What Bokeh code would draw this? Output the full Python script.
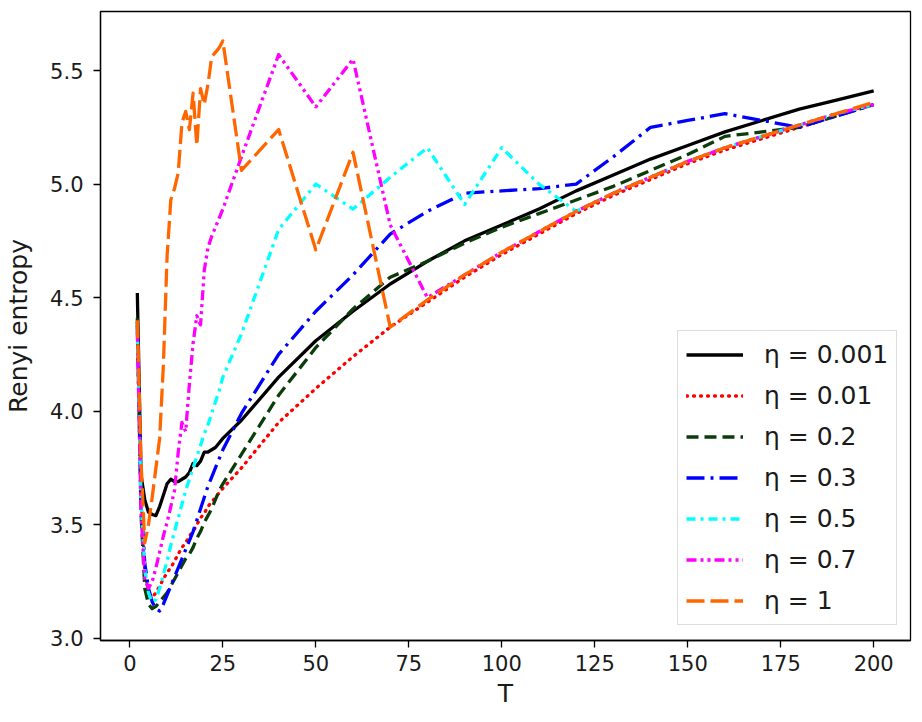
from bokeh.plotting import figure
from bokeh.models import Range1d, FixedTicker, PrintfTickFormatter, Legend, LegendItem
from bokeh.embed import file_html
from bokeh.resources import INLINE

# ---- data ----
T = [2, 3, 4, 5, 6, 7, 8, 9, 10, 11, 12, 13, 14, 15, 16, 17, 18, 19, 20, 21, 22, 23, 24, 25,
     30, 40, 50, 60, 70, 80, 90, 100, 110, 120, 130, 140, 150, 160, 170, 180, 190, 200]

eta_0001 = [4.52, 3.72, 3.61, 3.555, 3.545, 3.54, 3.58, 3.63, 3.68, 3.70, 3.69, 3.69, 3.70, 3.71,
            3.73, 3.77, 3.76, 3.78, 3.82, 3.82, 3.83, 3.84, 3.86, 3.88,
            3.96, 4.15, 4.31, 4.44, 4.56, 4.66, 4.75, 4.82, 4.89, 4.97, 5.04, 5.11, 5.17, 5.23,
            5.28, 5.33, 5.37, 5.41]

eta_001 = [4.39, 3.62, 3.30, 3.20, 3.18, 3.20, 3.23, 3.26, 3.29, 3.31, 3.34, 3.37, 3.40, 3.42,
           3.45, 3.47, 3.50, 3.53, 3.55, 3.58, 3.60, 3.62, 3.64, 3.66,
           3.75, 3.95, 4.10, 4.24, 4.37, 4.48, 4.59, 4.69, 4.78, 4.87, 4.95, 5.02, 5.09, 5.15,
           5.20, 5.25, 5.30, 5.35]

eta_02 = [4.41, 3.55, 3.22, 3.15, 3.13, 3.14, 3.16, 3.18, 3.20, 3.23, 3.26, 3.29, 3.32, 3.35,
          3.37, 3.40, 3.44, 3.47, 3.51, 3.54, 3.57, 3.61, 3.65, 3.68,
          3.81, 4.07, 4.28, 4.45, 4.59, 4.66, 4.74, 4.81, 4.87, 4.93, 4.99, 5.06, 5.13, 5.21,
          5.23, 5.25, 5.30, 5.35]

eta_03 = [4.38, 3.62, 3.33, 3.22, 3.16, 3.13, 3.12, 3.15, 3.19, 3.23, 3.27, 3.31, 3.35, 3.39,
          3.43, 3.47, 3.52, 3.57, 3.62, 3.67, 3.71, 3.75, 3.79, 3.83,
          3.99, 4.25, 4.44, 4.60, 4.78, 4.88, 4.96, 4.97, 4.98, 5.00, 5.12, 5.25, 5.28, 5.31,
          5.28, 5.25, 5.30, 5.35]

eta_05 = [4.37, 3.60, 3.30, 3.20, 3.16, 3.17, 3.22, 3.28, 3.34, 3.41, 3.47, 3.53, 3.59, 3.65,
          3.70, 3.75, 3.80, 3.85, 3.90, 3.94, 3.99, 4.04, 4.09, 4.15,
          4.34, 4.80, 5.00, 4.89, 5.03, 5.16, 4.91, 5.16, 5.00, 4.88, 4.96, 5.03, 5.10, 5.16,
          5.21, 5.26, 5.31, 5.35]

eta_07 = [4.35, 3.55, 3.26, 3.22, 3.25, 3.31, 3.38, 3.45, 3.51, 3.58, 3.65, 3.82, 3.95, 3.91,
          4.12, 4.30, 4.42, 4.38, 4.62, 4.72, 4.77, 4.81, 4.85, 4.89,
          5.12, 5.57, 5.34, 5.55, 4.82, 4.50, 4.60, 4.70, 4.79, 4.88, 4.96, 5.03, 5.10, 5.16,
          5.21, 5.26, 5.31, 5.35]

eta_1 = [4.40, 3.78, 3.42, 3.50, 3.62, 3.75, 3.88, 4.20, 4.68, 4.93, 4.98, 5.05, 5.27, 5.32,
         5.24, 5.40, 5.17, 5.42, 5.35, 5.44, 5.56, 5.58, 5.60, 5.63,
         5.06, 5.24, 4.71, 5.14, 4.37, 4.49, 4.60, 4.70, 4.79, 4.88, 4.96, 5.03, 5.10, 5.16,
         5.21, 5.26, 5.31, 5.36]

labels = ["η = 0.001", "η = 0.01", "η = 0.2", "η = 0.3", "η = 0.5", "η = 0.7", "η = 1"]
series = [eta_0001, eta_001, eta_02, eta_03, eta_05, eta_07, eta_1]

x_ticks = [0, 25, 50, 75, 100, 125, 150, 175, 200]
y_ticks = [3.0, 3.5, 4.0, 4.5, 5.0, 5.5]

# ---- styles ----
colors = ["#000000", "#ff0000", "#0b3d0b", "#0000ff", "#00ffff", "#ff00ff", "#ff6600"]
dashes = ["solid", "1 6", "12 6", "18 6 3 6", "9 5 3 5", "10 4 3 4 3 4", "18 6"]
caps = ["butt", "round", "butt", "butt", "butt", "butt", "butt"]

FONT = "DejaVu Sans"

p = figure(width=922, height=722, output_backend="svg", toolbar_location=None,
           x_range=Range1d(-7.9, 209.9), y_range=Range1d(2.99, 5.76),
           min_border_left=100, min_border_right=12, min_border_top=11, min_border_bottom=82,
           x_axis_label="T", y_axis_label="Renyi entropy")

p.xgrid.visible = False
p.ygrid.visible = False
p.outline_line_color = "black"
p.outline_line_width = 1.3
p.background_fill_color = "white"
p.border_fill_color = "white"

items = []
for lab, ys, c, d, cap in zip(labels, series, colors, dashes, caps):
    r = p.line(T, ys, line_color=c, line_width=3.3, line_dash=d, line_cap=cap, line_join="round")
    items.append(LegendItem(label=lab, renderers=[r]))

p.xaxis.ticker = FixedTicker(ticks=x_ticks)
p.yaxis.ticker = FixedTicker(ticks=y_ticks)
p.yaxis.formatter = PrintfTickFormatter(format="%.1f")

for ax in (p.xaxis[0], p.yaxis[0]):
    ax.axis_line_color = "black"
    ax.axis_line_width = 1.3
    ax.major_tick_line_color = "black"
    ax.major_tick_line_width = 1.3
    ax.major_tick_in = 0
    ax.major_tick_out = 7
    ax.minor_tick_line_color = None
    ax.major_label_text_font = FONT
    ax.major_label_text_font_size = "21px"
    ax.major_label_text_color = "#1a1a1a"
    ax.axis_label_text_font = FONT
    ax.axis_label_text_font_size = "25px"
    ax.axis_label_text_font_style = "normal"
    ax.axis_label_text_color = "#1a1a1a"

p.xaxis.major_label_standoff = 7
p.xaxis.axis_label_standoff = 5
p.yaxis.major_label_standoff = 10
p.yaxis.axis_label_standoff = 14

legend = Legend(items=items, location=(577, 15))
legend.label_text_font = FONT
legend.label_text_font_size = "25px"
legend.label_text_color = "#1a1a1a"
legend.glyph_width = 57
legend.glyph_height = 31
legend.label_height = 31
legend.spacing = 10
legend.padding = 8
legend.margin = 0
legend.label_standoff = 21
legend.border_line_color = "#bbbbbb"
legend.border_line_width = 1.5
legend.background_fill_color = "white"
legend.background_fill_alpha = 0.9
p.add_layout(legend, "center")

open("out.html", "w").write(file_html(p, INLINE))
